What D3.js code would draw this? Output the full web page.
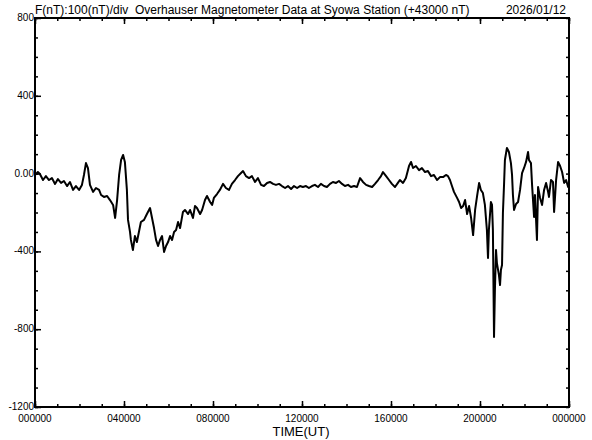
<!DOCTYPE html>
<html lang="en">
<head>
<meta charset="UTF-8">
<title>Syowa Overhauser Magnetometer</title>
<script src="https://d3js.org/d3.v7.min.js"></script>
<style>
    body { margin: 0; background: #fff; }
    svg { display: block; font-family: "Liberation Sans", Arial, sans-serif; }
    .axis path { display: none; }
    .axis line { stroke: #000; stroke-width: 1.5px; }
    .trace { fill: none; stroke: #000; stroke-width: 2px; stroke-linejoin: round; }
    .title { white-space: pre; font-size: 12px; }
</style>
</head>
<body>
<svg id="chart" width="592" height="440"></svg>
<script>
// time in hours UT, values in nT (offset from 43000 nT)
const hours = [0.00,0.13,0.22,0.36,0.49,0.63,0.76,0.90,1.03,1.17,1.30,1.44,1.57,1.71,1.84,1.98,2.11,2.20,2.29,2.38,2.47,2.61,2.74,2.88,2.97,3.10,3.24,3.37,3.51,3.60,3.69,3.78,3.87,3.96,4.04,4.13,4.18,4.27,4.31,4.40,4.49,4.58,4.67,4.76,4.90,5.03,5.17,5.26,5.35,5.44,5.53,5.62,5.71,5.80,5.89,5.98,6.07,6.16,6.25,6.34,6.43,6.52,6.65,6.74,6.88,6.97,7.10,7.19,7.28,7.42,7.51,7.64,7.73,7.87,7.96,8.04,8.18,8.31,8.45,8.58,8.72,8.85,8.99,9.12,9.26,9.35,9.48,9.62,9.75,9.89,10.02,10.16,10.29,10.43,10.56,10.70,10.83,10.97,11.10,11.24,11.37,11.51,11.64,11.78,11.91,12.04,12.18,12.31,12.45,12.58,12.72,12.85,12.99,13.12,13.26,13.39,13.53,13.66,13.80,13.93,14.07,14.20,14.34,14.47,14.61,14.74,14.88,15.01,15.15,15.28,15.42,15.55,15.64,15.78,15.91,16.04,16.18,16.31,16.40,16.54,16.67,16.81,16.90,16.99,17.12,17.26,17.39,17.53,17.66,17.80,17.93,18.07,18.20,18.34,18.47,18.56,18.65,18.74,18.83,18.97,19.06,19.15,19.24,19.33,19.42,19.51,19.60,19.69,19.78,19.87,19.96,20.04,20.13,20.22,20.31,20.36,20.40,20.49,20.54,20.58,20.63,20.67,20.72,20.76,20.85,20.90,20.94,20.99,21.03,21.08,21.12,21.21,21.30,21.39,21.44,21.48,21.53,21.62,21.71,21.80,21.89,21.98,22.07,22.16,22.20,22.29,22.34,22.43,22.47,22.56,22.61,22.70,22.79,22.88,22.97,23.06,23.10,23.19,23.28,23.33,23.42,23.51,23.60,23.69,23.78,23.87,23.96,24.00];
const fieldNT = [-7,8,-2,-33,-13,-33,-23,-53,-28,-48,-38,-64,-43,-84,-64,-84,-58,-7,54,28,-58,-94,-74,-84,-110,-120,-115,-136,-161,-228,-136,-7,70,96,60,-84,-238,-300,-341,-393,-321,-352,-300,-249,-238,-208,-177,-228,-280,-341,-372,-341,-321,-403,-372,-352,-321,-341,-300,-290,-249,-280,-197,-187,-208,-187,-228,-167,-177,-208,-187,-136,-115,-146,-161,-125,-105,-84,-53,-74,-84,-53,-33,-13,3,13,-13,-23,-13,-43,-23,-58,-64,-48,-43,-53,-58,-53,-64,-74,-64,-79,-64,-74,-64,-69,-64,-74,-64,-58,-69,-53,-64,-69,-53,-43,-48,-38,-53,-64,-58,-69,-64,-69,-23,-43,-58,-64,-69,-53,-33,-13,8,-13,-33,-53,-69,-48,-33,-48,-23,39,60,29,39,18,28,8,13,-13,-7,-33,-18,-18,-7,-13,-33,-64,-94,-125,-146,-177,-167,-136,-208,-167,-228,-316,-187,-115,-48,-84,-100,-161,-290,-434,-290,-146,-161,-290,-840,-598,-393,-460,-521,-573,-496,-470,-203,-58,70,132,111,54,-7,-110,-187,-156,-146,-84,3,29,60,111,70,54,-58,-223,-110,-341,-69,-125,-161,-84,-48,-94,-120,-33,-43,-197,-33,60,39,8,-48,-33,-69,-58];

const yTickValues = [800, 400, 0, -400, -800, -1200];
const yTickLabels = ["800", "400", "0.00", "-400", "-800", "-1200"];
const xTickHours = [0, 4, 8, 12, 16, 20, 24];
const xTickLabels = ["000000", "040000", "080000", "120000", "160000", "200000", "000000"];

const titleText = "F(nT):100(nT)/div  Overhauser Magnetometer Data at Syowa Station (+43000 nT)";
const dateText = "2026/01/12";

const svg = d3.select("#chart");
const plotLeft = 35, plotRight = 569, plotTop = 18, plotBottom = 407;

const x = d3.scaleLinear().domain([0, 24]).range([plotLeft, plotRight]);
const y = d3.scaleLinear().domain([-1200, 800]).range([plotBottom, plotTop]);

// minor ticks (hourly / 100 nT)
const hourTicks = d3.range(0, 25);
const nTTicks = d3.range(-1200, 801, 100);

svg.append("g").attr("class", "axis")
    .attr("transform", `translate(0,${plotBottom})`)
    .call(d3.axisTop(x).tickValues(hourTicks).tickSize(3).tickFormat(""));
svg.append("g").attr("class", "axis")
    .attr("transform", `translate(0,${plotBottom})`)
    .call(d3.axisTop(x).tickValues(xTickHours).tickSize(6).tickFormat(""));
svg.append("g").attr("class", "axis")
    .attr("transform", `translate(0,${plotTop})`)
    .call(d3.axisBottom(x).tickValues(hourTicks).tickSize(3).tickFormat(""));
svg.append("g").attr("class", "axis")
    .attr("transform", `translate(0,${plotTop})`)
    .call(d3.axisBottom(x).tickValues(xTickHours).tickSize(6).tickFormat(""));

svg.append("g").attr("class", "axis")
    .attr("transform", `translate(${plotLeft},0)`)
    .call(d3.axisRight(y).tickValues(nTTicks).tickSize(3).tickFormat(""));
svg.append("g").attr("class", "axis")
    .attr("transform", `translate(${plotLeft},0)`)
    .call(d3.axisRight(y).tickValues(yTickValues).tickSize(6).tickFormat(""));
svg.append("g").attr("class", "axis")
    .attr("transform", `translate(${plotRight},0)`)
    .call(d3.axisLeft(y).tickValues(nTTicks).tickSize(3).tickFormat(""));

// frame
svg.append("rect")
    .attr("x", plotLeft).attr("y", plotTop)
    .attr("width", plotRight - plotLeft).attr("height", plotBottom - plotTop)
    .attr("fill", "none").attr("stroke", "#000").attr("stroke-width", 2);

// tick labels
svg.append("g").selectAll("text")
    .data(xTickHours)
    .join("text")
    .attr("x", d => x(d))
    .attr("y", plotBottom + 15)
    .attr("text-anchor", "middle")
    .attr("font-size", 10)
    .text((d, i) => xTickLabels[i]);

svg.append("g").selectAll("text")
    .data(yTickValues)
    .join("text")
    .attr("x", plotLeft - 1)
    .attr("y", d => y(d) + 3)
    .attr("text-anchor", "end")
    .attr("font-size", 10)
    .text((d, i) => yTickLabels[i]);

svg.append("text")
    .attr("x", 301).attr("y", 436)
    .attr("text-anchor", "middle")
    .attr("font-size", 13)
    .text("TIME(UT)");

svg.append("text")
    .attr("class", "title")
    .attr("x", plotLeft).attr("y", 14)
    .text(titleText);

svg.append("text")
    .attr("class", "title")
    .attr("x", plotRight - 3).attr("y", 14)
    .attr("text-anchor", "end")
    .text(dateText);

// data trace
const line = d3.line()
    .x((d, i) => x(hours[i]))
    .y(d => y(d));

svg.append("path")
    .datum(fieldNT)
    .attr("class", "trace")
    .attr("d", line);
</script>
</body>
</html>
